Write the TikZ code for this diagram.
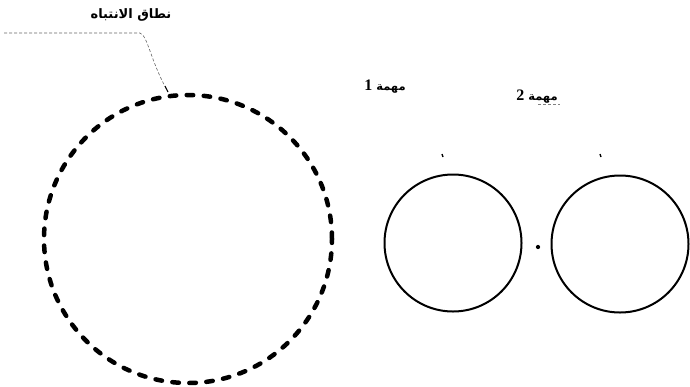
\documentclass[tikz,border=0pt]{standalone}
\usepackage{fontspec}
\newfontfamily\arabicfont[Script=Arabic]{DejaVu Sans}
\newfontfamily\digitfont{Liberation Serif}
\TeXXeTstate=1
\begin{document}
\begin{tikzpicture}[x=1pt,y=-1pt,
  lbl/.style={font=\arabicfont\bfseries\fontsize{13}{15}\selectfont, inner sep=1pt},
  tasklbl/.style={font=\arabicfont\bfseries\fontsize{11.5}{14}\selectfont, inner sep=1pt},
  task/.style={circle, draw, line width=2pt, minimum size=137pt, inner sep=0pt},
  span/.style={circle, draw, line width=4.5pt, dash pattern=on 6.5pt off 10.5pt, line cap=round, minimum size=288pt, inner sep=0pt},
  leader/.style={draw=black!60, line width=0.6pt, densely dashed},
  tick/.style={line width=1.3pt}]
\useasboundingbox (0,0) rectangle (690,386);
\node[span] (att) at (188,239) {};
\node[task] (t1) at (453,243) {};
\node[task] (t2) at (620,244) {};
\node[lbl] (lattn) at (131,15) {\beginR نطاق الانتباه\endR};
\node[tasklbl] (l1) at (385,87) {\beginR مهمة \beginL{\digitfont\fontsize{16}{18}\selectfont 1}\endL\endR};
\node[tasklbl] (l2) at (537,97) {\beginR مهمة \beginL{\digitfont\fontsize{16}{18}\selectfont 2}\endL\endR};
\coordinate (ls) at (4,33);
\coordinate (lk) at (140,33);
\coordinate (le) at (168,92);
\draw[leader] (ls) -- (lk) .. controls (148,36) and (150,60) .. (le);
\draw[line width=0.9pt] (le) -- ++(-3,-6);
\coordinate (k1) at (443,157);
\coordinate (k2) at (601,157);
\draw[tick] (k1) -- ++(-1,-3);
\draw[tick] (k2) -- ++(-1,-3);
\coordinate (u1) at (538,104);
\draw[gray, line width=0.4pt, densely dashed] (u1) -- ++(22,0);
\node[fill, circle, inner sep=1.5pt] (dot) at (538,247) {};
\end{tikzpicture}
\end{document}
